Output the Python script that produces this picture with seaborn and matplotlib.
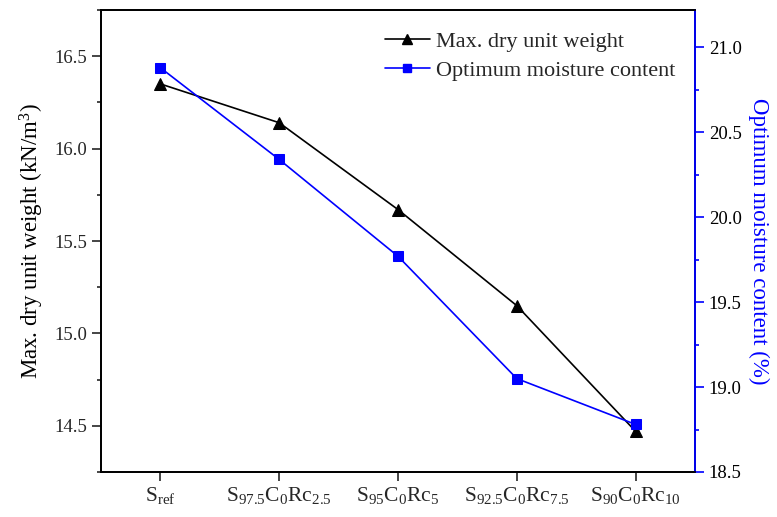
import matplotlib
matplotlib.use("Agg")
import matplotlib.pyplot as plt
import seaborn as sns
import numpy as np
import pandas as pd
from matplotlib.ticker import MultipleLocator, FormatStrFormatter
from matplotlib.lines import Line2D

categories = [r"S$_{\mathrm{ref}}$",
              r"S$_{97.5}$C$_{0}$Rc$_{2.5}$",
              r"S$_{95}$C$_{0}$Rc$_{5}$",
              r"S$_{92.5}$C$_{0}$Rc$_{7.5}$",
              r"S$_{90}$C$_{0}$Rc$_{10}$"]
max_dry_unit_weight = [16.35, 16.14, 15.67, 15.15, 14.47]
optimum_moisture = [20.88, 20.34, 19.77, 19.05, 18.78]

sns.set_theme(style="ticks")
plt.rcParams['font.family'] = ['Liberation Serif', 'DejaVu Serif']
plt.rcParams['mathtext.fontset'] = 'custom'
plt.rcParams['mathtext.rm'] = 'Liberation Serif'
plt.rcParams['mathtext.it'] = 'Liberation Serif:italic'

df = pd.DataFrame({"pos": np.arange(len(categories)),
                   "mdw": max_dry_unit_weight,
                   "omc": optimum_moisture})

fig = plt.figure(figsize=(7.77, 5.17), dpi=100)
ax = fig.add_axes([101/777, 45/517, 594/777, 462/517])
ax2 = ax.twinx()

sns.lineplot(data=df, x="pos", y="mdw", ax=ax, color="black", marker="^",
             markersize=8, markeredgecolor="black", linewidth=1.2)
sns.lineplot(data=df, x="pos", y="omc", ax=ax2, color="#0000ff", marker="s",
             markersize=6.5, markeredgecolor="#0000ff", linewidth=1.2)

ax.set_xlim(-0.5, 4.5)
ax.set_ylim(14.25, 16.75)
ax2.set_ylim(18.5, 21.22)
ax.set_xticks(df["pos"])
ax.set_xticklabels(categories)
ax.set_xlabel("")
for a in (ax, ax2):
    a.yaxis.set_major_locator(MultipleLocator(0.5))
    a.yaxis.set_minor_locator(MultipleLocator(0.25))
    a.yaxis.set_major_formatter(FormatStrFormatter('%.1f'))

ax.set_ylabel(r"Max. dry unit weight (kN/m$^{3}$)", fontsize=16.5, color="black", labelpad=6)
ax2.set_ylabel("Optimum moisture content (%)", fontsize=16.5, color="#0000ff",
               rotation=270, labelpad=20)

for a in (ax, ax2):
    a.tick_params(axis='both', which='major', direction='out', length=6.5, width=1.2, labelsize=13.5)
    a.tick_params(axis='both', which='minor', direction='out', length=3, width=1.2)
    for s in a.spines.values():
        s.set_linewidth(1.3)
        s.set_color("black")
ax2.spines['right'].set_color("#0000ff")
ax2.tick_params(axis='y', which='both', colors="#0000ff", labelcolor="black")
ax.tick_params(axis='x', labelsize=15.5, pad=3)

handles = [Line2D([], [], color="black", marker="^", markersize=7, linewidth=1.2),
           Line2D([], [], color="#0000ff", marker="s", markersize=5.5, linewidth=1.2)]
ax2.legend(handles, ["Max. dry unit weight", "Optimum moisture content"],
           loc="upper right", bbox_to_anchor=(0.99, 0.983), frameon=False,
           fontsize=16, handlelength=2.0, handletextpad=0.3, labelspacing=0.38,
           borderaxespad=0.2)
if ax.get_legend():
    ax.get_legend().remove()

fig.savefig("out.png", dpi=100)
